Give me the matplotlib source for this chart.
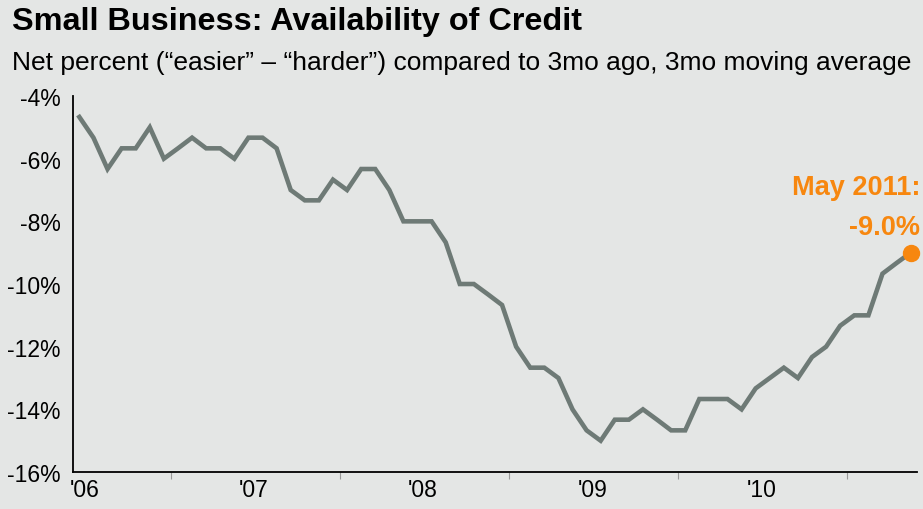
import matplotlib
matplotlib.use("Agg")
import matplotlib.pyplot as plt

# monthly, Jun 2006 - May 2011 (3mo moving average, net percent)
credit = [-4.67, -5.33, -6.33, -5.67, -5.67, -5.0, -6.0, -5.67, -5.33, -5.67,
          -5.67, -6.0, -5.33, -5.33, -5.67, -7.0, -7.33, -7.33, -6.67, -7.0,
          -6.33, -6.33, -7.0, -8.0, -8.0, -8.0, -8.67, -10.0, -10.0, -10.33,
          -10.67, -12.0, -12.67, -12.67, -13.0, -14.0, -14.67, -15.0, -14.33, -14.33,
          -14.0, -14.33, -14.67, -14.67, -13.67, -13.67, -13.67, -14.0, -13.33, -13.0,
          -12.67, -13.0, -12.33, -12.0, -11.33, -11.0, -11.0, -9.67, -9.33, -9.0]
year_labels = ["'06", "'07", "'08", "'09", "'10"]
y_ticks = [-4, -6, -8, -10, -12, -14, -16]

bg = "#E4E6E5"
line_col = "#6E7A76"
orange = "#F7870F"
sans = ["Liberation Sans", "DejaVu Sans"]

fig = plt.figure(figsize=(9.23, 5.10), dpi=100, facecolor=bg)
ax = fig.add_axes([0.0791, 0.0725, 0.9144, 0.7373], facecolor=bg)

x = list(range(len(credit)))
ax.plot(x, credit, color=line_col, lw=3.3, solid_joinstyle="miter")
ax.plot(x[-1], credit[-1], "o", color=orange, ms=11.5, clip_on=False, zorder=5)

ax.set_xlim(-0.45, 59.45)
ax.set_ylim(-16, -4)

# year boundaries get tick marks, labels sit at mid-year
ax.set_xticks([6.5 + 12 * i for i in range(5)])
ax.set_xticklabels([])
ax.set_xticks([0.4 + 12 * i for i in range(5)], minor=True)
ax.set_xticklabels(year_labels, minor=True, fontsize=16.5, family=sans)
ax.tick_params(axis="x", which="major", length=5, width=0.8, color="#999999", direction="out")
ax.tick_params(axis="x", which="minor", length=0, pad=4)

ax.set_yticks(y_ticks)
ax.set_yticklabels([f"{v}%" for v in y_ticks], fontsize=16.5, family=sans)
ax.tick_params(axis="y", length=0, pad=9)

for s in ["top", "right"]:
    ax.spines[s].set_visible(False)
for s in ["left", "bottom"]:
    ax.spines[s].set_color("black")
    ax.spines[s].set_linewidth(1.3)

fig.text(0.013, 0.956, "Small Business: Availability of Credit", fontsize=23.3,
         fontweight="bold", family=sans, va="center")
fig.text(0.013, 0.876, "Net percent (\u201ceasier\u201d \u2013 \u201charder\u201d) compared to 3mo ago, 3mo moving average",
         fontsize=19, family=sans, va="center")

fig.text(0.997, 0.632, "May 2011:", fontsize=19.5, fontweight="bold", color=orange,
         family=sans, ha="right", va="center")
fig.text(0.997, 0.553, "-9.0%", fontsize=19.5, fontweight="bold", color=orange,
         family=sans, ha="right", va="center")

fig.savefig("out.png", dpi=100, facecolor=bg)
